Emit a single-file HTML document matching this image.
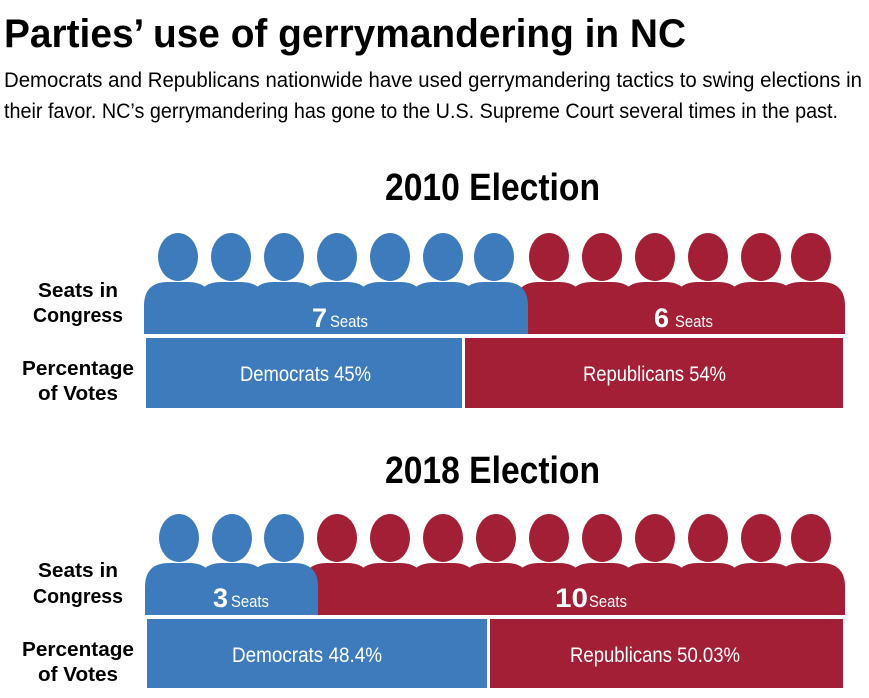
<!DOCTYPE html>
<html><head><meta charset="utf-8"><style>
html,body{margin:0;padding:0;background:#fff;width:869px;height:698px;overflow:hidden}
svg{display:block}
text{font-family:"Liberation Sans",sans-serif}
</style></head><body>
<svg width="869" height="698" viewBox="0 0 869 698" xmlns="http://www.w3.org/2000/svg">
<defs>
<path id="bd" d="M-34,52 L-34,24 Q-34,0 -10,0 L10,0 Q34,0 34,24 L34,52 Z"/>
<ellipse id="hd" cx="0" cy="-25" rx="20" ry="24"/>
</defs>
<text x="4" y="47" font-size="40" font-weight="bold" textLength="682" lengthAdjust="spacingAndGlyphs">Parties’ use of gerrymandering in NC</text>
<text x="4" y="87" font-size="21" textLength="858" lengthAdjust="spacingAndGlyphs">Democrats and Republicans nationwide have used gerrymandering tactics to swing elections in</text>
<text x="4" y="118" font-size="21" textLength="834" lengthAdjust="spacingAndGlyphs">their favor. NC’s gerrymandering has gone to the U.S. Supreme Court several times in the past.</text>

<!-- 2010 -->
<text x="385" y="200" font-size="38" font-weight="bold" textLength="215" lengthAdjust="spacingAndGlyphs">2010 Election</text>
<g fill="#a31f36">
<use href="#bd" x="811" y="282"/><use href="#bd" x="761" y="282"/><use href="#bd" x="708" y="282"/><use href="#bd" x="655" y="282"/><use href="#bd" x="602" y="282"/><use href="#bd" x="549" y="282"/>
<use href="#hd" x="811" y="282"/><use href="#hd" x="761" y="282"/><use href="#hd" x="708" y="282"/><use href="#hd" x="655" y="282"/><use href="#hd" x="602" y="282"/><use href="#hd" x="549" y="282"/>
</g>
<g fill="#3d7bbd">
<use href="#bd" x="178" y="282"/><use href="#bd" x="231" y="282"/><use href="#bd" x="284" y="282"/><use href="#bd" x="337" y="282"/><use href="#bd" x="390" y="282"/><use href="#bd" x="443" y="282"/><use href="#bd" x="494" y="282"/>
<use href="#hd" x="178" y="282"/><use href="#hd" x="231" y="282"/><use href="#hd" x="284" y="282"/><use href="#hd" x="337" y="282"/><use href="#hd" x="390" y="282"/><use href="#hd" x="443" y="282"/><use href="#hd" x="494" y="282"/>
</g>
<rect x="140" y="334" width="710" height="4" fill="#fff"/>
<text x="312" y="327" font-size="27" font-weight="bold" fill="#fff">7</text>
<text x="330" y="327" font-size="17" fill="#fff" textLength="38" lengthAdjust="spacingAndGlyphs">Seats</text>
<text x="654" y="327" font-size="27" font-weight="bold" fill="#fff">6</text>
<text x="675" y="327" font-size="17" fill="#fff" textLength="38" lengthAdjust="spacingAndGlyphs">Seats</text>
<rect x="146" y="338" width="316" height="70" fill="#3d7bbd"/>
<rect x="465" y="338" width="378" height="70" fill="#a31f36"/>
<text x="240" y="381" font-size="21" fill="#fff" textLength="131" lengthAdjust="spacingAndGlyphs">Democrats 45%</text>
<text x="583" y="381" font-size="21" fill="#fff" textLength="143" lengthAdjust="spacingAndGlyphs">Republicans 54%</text>
<text x="78" y="297" font-size="20" font-weight="bold" text-anchor="middle" textLength="80" lengthAdjust="spacingAndGlyphs">Seats in</text>
<text x="78" y="322" font-size="20" font-weight="bold" text-anchor="middle" textLength="90" lengthAdjust="spacingAndGlyphs">Congress</text>
<text x="78" y="375" font-size="20" font-weight="bold" text-anchor="middle" textLength="112" lengthAdjust="spacingAndGlyphs">Percentage</text>
<text x="78" y="400" font-size="20" font-weight="bold" text-anchor="middle" textLength="80" lengthAdjust="spacingAndGlyphs">of Votes</text>

<!-- 2018 -->
<text x="385" y="483" font-size="38" font-weight="bold" textLength="215" lengthAdjust="spacingAndGlyphs">2018 Election</text>
<g fill="#a31f36">
<use href="#bd" x="811" y="563"/><use href="#bd" x="761" y="563"/><use href="#bd" x="708" y="563"/><use href="#bd" x="655" y="563"/><use href="#bd" x="602" y="563"/><use href="#bd" x="549" y="563"/><use href="#bd" x="496" y="563"/><use href="#bd" x="443" y="563"/><use href="#bd" x="390" y="563"/><use href="#bd" x="337" y="563"/>
<use href="#hd" x="811" y="563"/><use href="#hd" x="761" y="563"/><use href="#hd" x="708" y="563"/><use href="#hd" x="655" y="563"/><use href="#hd" x="602" y="563"/><use href="#hd" x="549" y="563"/><use href="#hd" x="496" y="563"/><use href="#hd" x="443" y="563"/><use href="#hd" x="390" y="563"/><use href="#hd" x="337" y="563"/>
</g>
<g fill="#3d7bbd">
<use href="#bd" x="179" y="563"/><use href="#bd" x="232" y="563"/><use href="#bd" x="284" y="563"/>
<use href="#hd" x="179" y="563"/><use href="#hd" x="232" y="563"/><use href="#hd" x="284" y="563"/>
</g>
<rect x="140" y="615" width="710" height="4" fill="#fff"/>
<text x="213" y="607" font-size="27" font-weight="bold" fill="#fff">3</text>
<text x="231" y="607" font-size="17" fill="#fff" textLength="38" lengthAdjust="spacingAndGlyphs">Seats</text>
<text x="555" y="607" font-size="27" font-weight="bold" fill="#fff" textLength="33" lengthAdjust="spacingAndGlyphs">10</text>
<text x="589" y="607" font-size="17" fill="#fff" textLength="38" lengthAdjust="spacingAndGlyphs">Seats</text>
<rect x="147" y="619" width="340" height="69" fill="#3d7bbd"/>
<rect x="490" y="619" width="353" height="69" fill="#a31f36"/>
<text x="232" y="662" font-size="21" fill="#fff" textLength="150" lengthAdjust="spacingAndGlyphs">Democrats 48.4%</text>
<text x="570" y="662" font-size="21" fill="#fff" textLength="170" lengthAdjust="spacingAndGlyphs">Republicans 50.03%</text>
<text x="78" y="577" font-size="20" font-weight="bold" text-anchor="middle" textLength="80" lengthAdjust="spacingAndGlyphs">Seats in</text>
<text x="78" y="603" font-size="20" font-weight="bold" text-anchor="middle" textLength="90" lengthAdjust="spacingAndGlyphs">Congress</text>
<text x="78" y="656" font-size="20" font-weight="bold" text-anchor="middle" textLength="112" lengthAdjust="spacingAndGlyphs">Percentage</text>
<text x="78" y="681" font-size="20" font-weight="bold" text-anchor="middle" textLength="80" lengthAdjust="spacingAndGlyphs">of Votes</text>
</svg>
</body></html>
